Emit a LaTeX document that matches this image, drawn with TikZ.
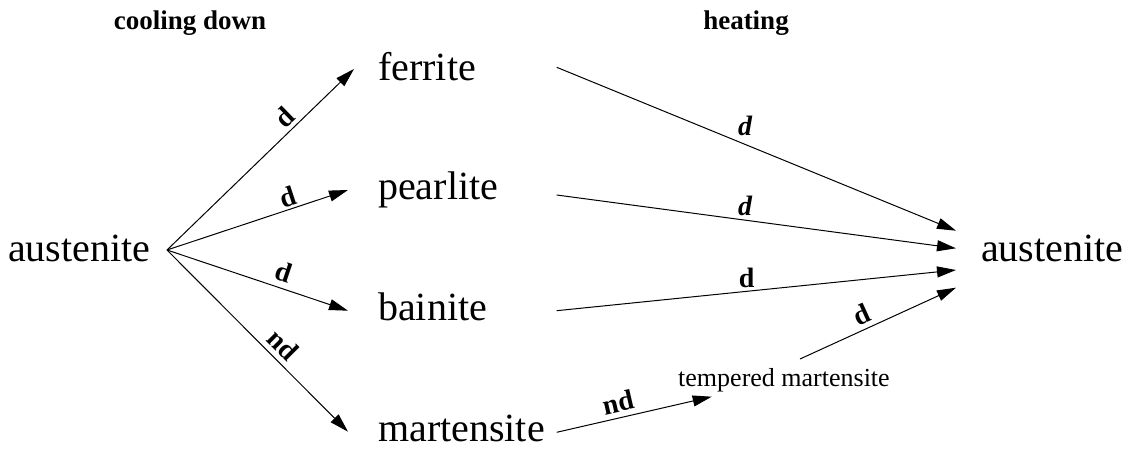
\documentclass[tikz,border=0pt]{standalone}
\usepackage{fontspec}
\setmainfont{Liberation Serif}
\usetikzlibrary{arrows.meta}
\begin{document}
\begin{tikzpicture}[x=1pt,y=-1pt,
  phase/.style={font=\fontsize{40}{44}\selectfont, inner sep=0pt, anchor=base west},
  title/.style={font=\fontsize{27}{30}\selectfont\bfseries, inner sep=0pt, anchor=base},
  small/.style={font=\fontsize{26}{29}\selectfont, inner sep=0pt, anchor=base west},
  lab/.style={font=\fontsize{28}{30}\selectfont\bfseries, inner sep=0pt},
  ilab/.style={font=\fontsize{28}{30}\selectfont\bfseries\itshape, inner sep=0pt},
  arr/.style={line width=1pt, -{Triangle[length=19pt,width=11pt]}}]
\useasboundingbox (0,0) rectangle (1128,449);

% headings
\node[title] (tcool) at (190,30) {cooling down};
\node[title] (theat) at (746,30) {heating};

% phases
\node[phase] (ausL) at (8,262) {austenite};
\node[phase] (fer) at (378,81) {ferrite};
\node[phase] (pea) at (378,200) {pearlite};
\node[phase] (bai) at (378,320) {bainite};
\node[phase] (mar) at (378,441) {martensite};
\node[phase] (ausR) at (981,262) {austenite};
\node[small] (tmar) at (678,386) {tempered martensite};

% arrow end points
\coordinate (ausL-out) at (167,250);
\coordinate (fer-in) at (354,69);
\coordinate (pea-in) at (348,190);
\coordinate (bai-in) at (348,310.7);
\coordinate (mar-in) at (348,431.7);
\coordinate (fer-out) at (556.7,67.3);
\coordinate (pea-out) at (556.7,195);
\coordinate (bai-out) at (556.7,310.7);
\coordinate (mar-out) at (556.7,432.3);
\coordinate (tmar-in) at (711.7,396.7);
\coordinate (tmar-out) at (800,359);
\coordinate (ausR-in1) at (956,230.7);
\coordinate (ausR-in2) at (956,248.3);
\coordinate (ausR-in3) at (956,270);
\coordinate (ausR-in4) at (956,287.7);

% cooling down
\draw[arr] (ausL-out) -- node[lab, pos=0.68, sloped, above=3.6pt] {d} (fer-in);
\draw[arr] (ausL-out) -- node[lab, pos=0.69, sloped, above=2pt] {d} (pea-in);
\draw[arr] (ausL-out) -- node[lab, pos=0.62, sloped, above=6pt] {d} (bai-in);
\draw[arr] (ausL-out) -- node[lab, pos=0.58, sloped, above=5pt] {nd} (mar-in);

% heating
\draw[arr] (fer-out) -- node[ilab, pos=0.4716, above=8pt] {d} (ausR-in1);
\draw[arr] (pea-out) -- node[ilab, pos=0.4716, above=4pt] {d} (ausR-in2);
\draw[arr] (bai-out) -- node[lab, pos=0.476, above=3.5pt] {d} (ausR-in3);
\draw[arr] (mar-out) -- node[lab, pos=0.418, sloped, above=5.2pt] {nd} (tmar-in);
\draw[arr] (tmar-out) -- node[lab, pos=0.434, sloped, above=5pt] {d} (ausR-in4);
\end{tikzpicture}
\end{document}
